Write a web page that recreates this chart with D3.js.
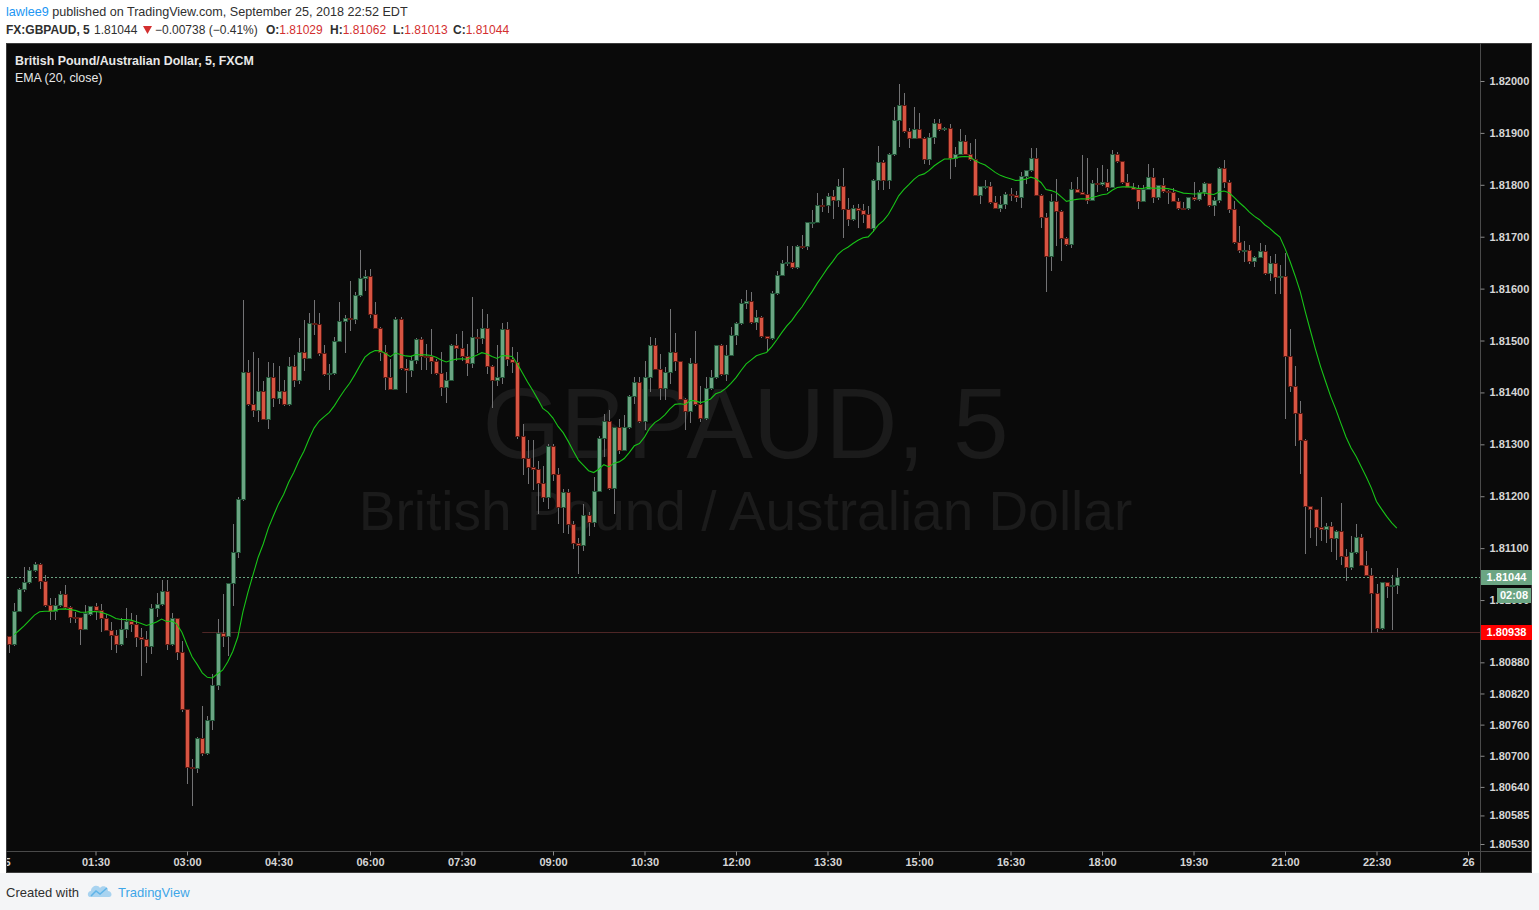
<!DOCTYPE html>
<html><head><meta charset="utf-8">
<script src="https://cdn.jsdelivr.net/npm/d3@7"></script>
<style>
html,body{margin:0;padding:0;background:#ffffff;}
svg{display:block;}
</style></head><body>
<svg id="chart" width="1539" height="910"></svg>
<script>
// ---------------- data ----------------
const author = "lawlee9";
const publishedText = " published on TradingView.com, September 25, 2018 22:52 EDT";
const symbolCode = "FX:GBPAUD, 5";
const symbolTitle = "British Pound/Australian Dollar, 5, FXCM";
const indicatorTitle = "EMA (20, close)";
const watermarkMain = "GBPAUD, 5";
const watermarkSub = "British Pound / Australian Dollar";
const startTime = "2018-09-25T00:05:00";
const barMinutes = 5;
const dayStart = "2018-09-25T00:00:00";
const dayEnd = "2018-09-26T00:00:00";

const open = [1.80930,1.80915,1.80979,1.81022,1.81034,1.81057,1.81069,1.81037,1.80990,1.80978,1.80990,1.81011,1.80986,1.80968,1.80967,1.80945,1.80974,1.80988,1.80980,1.80966,
1.80943,1.80932,1.80915,1.80945,1.80959,1.80953,1.80929,1.80924,1.80912,1.80984,1.80992,1.81017,1.80916,1.80965,1.80899,1.80790,1.80679,1.80677,1.80735,1.80706,
1.80768,1.80837,1.80936,1.80930,1.81032,1.81092,1.81194,1.81439,1.81377,1.81367,1.81402,1.81349,1.81429,1.81390,1.81402,1.81377,1.81450,1.81423,1.81477,1.81467,
1.81533,1.81532,1.81475,1.81435,1.81437,1.81500,1.81537,1.81543,1.81541,1.81587,1.81620,1.81625,1.81552,1.81525,1.81477,1.81430,1.81407,1.81541,1.81447,1.81444,
1.81462,1.81503,1.81471,1.81470,1.81460,1.81437,1.81410,1.81424,1.81492,1.81485,1.81471,1.81456,1.81506,1.81505,1.81525,1.81451,1.81423,1.81429,1.81523,1.81465,
1.81459,1.81316,1.81273,1.81257,1.81252,1.81225,1.81198,1.81296,1.81242,1.81180,1.81209,1.81146,1.81109,1.81106,1.81163,1.81151,1.81211,1.81313,1.81344,1.81215,
1.81333,1.81290,1.81333,1.81394,1.81421,1.81344,1.81430,1.81492,1.81446,1.81408,1.81440,1.81477,1.81460,1.81388,1.81365,1.81456,1.81377,1.81350,1.81408,1.81429,
1.81491,1.81435,1.81473,1.81510,1.81533,1.81573,1.81577,1.81535,1.81545,1.81508,1.81504,1.81591,1.81627,1.81650,1.81651,1.81641,1.81683,1.81682,1.81728,1.81729,
1.81762,1.81761,1.81778,1.81770,1.81797,1.81754,1.81734,1.81755,1.81751,1.81743,1.81717,1.81810,1.81843,1.81810,1.81859,1.81924,1.81953,1.81903,1.81891,1.81907,
1.81891,1.81849,1.81893,1.81920,1.81907,1.81909,1.81851,1.81860,1.81884,1.81860,1.81849,1.81781,1.81797,1.81798,1.81766,1.81756,1.81763,1.81782,1.81781,1.81777,
1.81817,1.81828,1.81851,1.81781,1.81738,1.81663,1.81768,1.81750,1.81698,1.81686,1.81791,1.81787,1.81783,1.81771,1.81803,1.81801,1.81806,1.81796,1.81860,1.81845,
1.81806,1.81796,1.81792,1.81769,1.81792,1.81815,1.81776,1.81799,1.81788,1.81787,1.81769,1.81756,1.81755,1.81776,1.81772,1.81787,1.81803,1.81762,1.81770,1.81833,
1.81806,1.81753,1.81689,1.81673,1.81675,1.81654,1.81661,1.81672,1.81631,1.81649,1.81622,1.81625,1.81471,1.81412,1.81360,1.81309,1.81181,1.81175,1.81141,1.81136,
1.81143,1.81120,1.81133,1.81085,1.81064,1.81092,1.81121,1.81068,1.81049,1.81014,1.80946,1.81034,1.81028,1.81029];

const high = [1.80931,1.80995,1.81023,1.81063,1.81063,1.81073,1.81072,1.81048,1.81004,1.81004,1.81017,1.81029,1.80988,1.80977,1.80968,1.80990,1.80989,1.80995,1.80992,1.80974,
1.80957,1.80943,1.80966,1.80984,1.80976,1.80971,1.80946,1.80940,1.80993,1.81013,1.81038,1.81038,1.80976,1.80966,1.80921,1.80791,1.80694,1.80736,1.80796,1.80776,
1.80857,1.80963,1.81011,1.81033,1.81146,1.81198,1.81578,1.81462,1.81478,1.81466,1.81422,1.81458,1.81456,1.81451,1.81424,1.81468,1.81472,1.81505,1.81539,1.81553,
1.81578,1.81553,1.81491,1.81455,1.81506,1.81574,1.81549,1.81614,1.81594,1.81674,1.81636,1.81638,1.81575,1.81526,1.81491,1.81464,1.81546,1.81546,1.81465,1.81471,
1.81504,1.81506,1.81493,1.81523,1.81465,1.81477,1.81439,1.81494,1.81512,1.81518,1.81494,1.81584,1.81523,1.81560,1.81551,1.81452,1.81491,1.81534,1.81536,1.81488,
1.81478,1.81339,1.81308,1.81308,1.81267,1.81258,1.81300,1.81300,1.81255,1.81214,1.81214,1.81152,1.81120,1.81185,1.81169,1.81237,1.81317,1.81358,1.81366,1.81334,
1.81348,1.81356,1.81395,1.81429,1.81429,1.81461,1.81507,1.81504,1.81474,1.81449,1.81560,1.81514,1.81461,1.81389,1.81467,1.81518,1.81412,1.81429,1.81443,1.81492,
1.81494,1.81492,1.81526,1.81536,1.81580,1.81597,1.81593,1.81558,1.81548,1.81509,1.81595,1.81633,1.81655,1.81682,1.81682,1.81684,1.81704,1.81729,1.81751,1.81785,
1.81772,1.81785,1.81790,1.81812,1.81832,1.81774,1.81762,1.81763,1.81763,1.81759,1.81812,1.81875,1.81848,1.81862,1.81949,1.81994,1.81976,1.81909,1.81949,1.81938,
1.81892,1.81899,1.81926,1.81926,1.81911,1.81918,1.81873,1.81907,1.81896,1.81880,1.81888,1.81798,1.81809,1.81805,1.81778,1.81778,1.81786,1.81793,1.81788,1.81825,
1.81829,1.81871,1.81871,1.81782,1.81745,1.81783,1.81812,1.81751,1.81699,1.81806,1.81815,1.81857,1.81851,1.81809,1.81832,1.81838,1.81830,1.81867,1.81863,1.81846,
1.81820,1.81804,1.81799,1.81799,1.81840,1.81832,1.81800,1.81813,1.81790,1.81793,1.81774,1.81767,1.81777,1.81805,1.81790,1.81805,1.81804,1.81777,1.81834,1.81848,
1.81809,1.81768,1.81720,1.81692,1.81684,1.81663,1.81688,1.81684,1.81663,1.81666,1.81645,1.81668,1.81522,1.81451,1.81384,1.81311,1.81182,1.81176,1.81199,1.81148,
1.81150,1.81134,1.81187,1.81098,1.81123,1.81146,1.81128,1.81094,1.81061,1.81031,1.81035,1.81035,1.81048,1.81062];

const low = [1.80900,1.80914,1.80978,1.81018,1.81033,1.81056,1.81024,1.80989,1.80963,1.80963,1.80988,1.80985,1.80958,1.80957,1.80916,1.80944,1.80972,1.80963,1.80941,1.80942,
1.80906,1.80900,1.80914,1.80929,1.80940,1.80912,1.80855,1.80881,1.80898,1.80969,1.80991,1.80905,1.80913,1.80887,1.80787,1.80648,1.80605,1.80669,1.80702,1.80703,
1.80751,1.80828,1.80912,1.80894,1.80991,1.81082,1.81193,1.81376,1.81354,1.81345,1.81348,1.81332,1.81374,1.81379,1.81376,1.81376,1.81413,1.81418,1.81444,1.81466,
1.81512,1.81473,1.81434,1.81407,1.81435,1.81499,1.81478,1.81520,1.81533,1.81586,1.81597,1.81546,1.81524,1.81462,1.81407,1.81406,1.81406,1.81446,1.81401,1.81432,
1.81456,1.81445,1.81445,1.81437,1.81435,1.81395,1.81382,1.81423,1.81462,1.81462,1.81433,1.81449,1.81478,1.81496,1.81438,1.81371,1.81414,1.81418,1.81453,1.81440,
1.81312,1.81243,1.81226,1.81214,1.81168,1.81191,1.81178,1.81232,1.81149,1.81131,1.81130,1.81101,1.81052,1.81097,1.81126,1.81142,1.81210,1.81277,1.81214,1.81168,
1.81284,1.81289,1.81331,1.81380,1.81343,1.81330,1.81403,1.81445,1.81388,1.81388,1.81418,1.81444,1.81387,1.81329,1.81343,1.81376,1.81345,1.81349,1.81407,1.81428,
1.81434,1.81424,1.81472,1.81494,1.81532,1.81563,1.81534,1.81523,1.81507,1.81479,1.81503,1.81590,1.81626,1.81645,1.81640,1.81640,1.81678,1.81677,1.81719,1.81728,
1.81749,1.81747,1.81736,1.81760,1.81700,1.81722,1.81733,1.81718,1.81729,1.81716,1.81711,1.81791,1.81791,1.81793,1.81858,1.81874,1.81902,1.81873,1.81890,1.81890,
1.81842,1.81841,1.81880,1.81906,1.81906,1.81813,1.81837,1.81859,1.81859,1.81848,1.81780,1.81764,1.81793,1.81765,1.81755,1.81750,1.81756,1.81771,1.81768,1.81758,
1.81803,1.81827,1.81780,1.81719,1.81596,1.81636,1.81684,1.81655,1.81684,1.81681,1.81786,1.81782,1.81764,1.81770,1.81788,1.81800,1.81790,1.81795,1.81844,1.81803,
1.81795,1.81791,1.81755,1.81768,1.81791,1.81767,1.81773,1.81787,1.81765,1.81768,1.81753,1.81754,1.81753,1.81771,1.81771,1.81780,1.81759,1.81742,1.81767,1.81796,
1.81748,1.81688,1.81671,1.81654,1.81650,1.81644,1.81660,1.81628,1.81616,1.81592,1.81592,1.81350,1.81403,1.81299,1.81244,1.81090,1.81122,1.81106,1.81115,1.81112,
1.81095,1.81079,1.81069,1.81038,1.81060,1.81091,1.81067,1.81048,1.80938,1.80940,1.80945,1.81006,1.80945,1.81013];

const close = [1.80915,1.80979,1.81022,1.81034,1.81057,1.81069,1.81037,1.80990,1.80978,1.80990,1.81011,1.80986,1.80968,1.80967,1.80945,1.80975,1.80988,1.80980,1.80966,1.80943,
1.80932,1.80915,1.80945,1.80959,1.80953,1.80929,1.80924,1.80912,1.80984,1.80992,1.81017,1.80916,1.80965,1.80899,1.80790,1.80679,1.80677,1.80735,1.80706,1.80768,
1.80837,1.80936,1.80930,1.81032,1.81092,1.81194,1.81439,1.81377,1.81367,1.81402,1.81349,1.81429,1.81390,1.81402,1.81377,1.81450,1.81423,1.81477,1.81467,1.81533,
1.81532,1.81475,1.81435,1.81437,1.81500,1.81537,1.81543,1.81541,1.81587,1.81620,1.81625,1.81552,1.81525,1.81477,1.81430,1.81407,1.81541,1.81447,1.81444,1.81462,
1.81503,1.81471,1.81470,1.81460,1.81437,1.81410,1.81424,1.81492,1.81485,1.81471,1.81456,1.81506,1.81505,1.81525,1.81451,1.81423,1.81429,1.81523,1.81465,1.81459,
1.81316,1.81273,1.81257,1.81252,1.81225,1.81198,1.81296,1.81242,1.81180,1.81209,1.81146,1.81109,1.81106,1.81163,1.81151,1.81211,1.81313,1.81344,1.81215,1.81333,
1.81290,1.81333,1.81394,1.81421,1.81344,1.81430,1.81492,1.81446,1.81408,1.81440,1.81477,1.81460,1.81388,1.81365,1.81456,1.81377,1.81350,1.81408,1.81429,1.81491,
1.81435,1.81473,1.81510,1.81533,1.81573,1.81577,1.81535,1.81545,1.81508,1.81504,1.81591,1.81627,1.81650,1.81651,1.81641,1.81683,1.81682,1.81728,1.81729,1.81762,
1.81761,1.81778,1.81770,1.81797,1.81754,1.81734,1.81755,1.81751,1.81743,1.81717,1.81810,1.81843,1.81810,1.81859,1.81924,1.81953,1.81903,1.81891,1.81907,1.81891,
1.81849,1.81893,1.81920,1.81907,1.81909,1.81851,1.81860,1.81884,1.81860,1.81849,1.81781,1.81797,1.81798,1.81766,1.81756,1.81763,1.81782,1.81781,1.81777,1.81817,
1.81828,1.81851,1.81781,1.81738,1.81663,1.81768,1.81750,1.81698,1.81686,1.81791,1.81787,1.81783,1.81771,1.81803,1.81801,1.81806,1.81796,1.81860,1.81845,1.81806,
1.81796,1.81792,1.81769,1.81792,1.81815,1.81776,1.81799,1.81788,1.81787,1.81769,1.81756,1.81755,1.81776,1.81772,1.81787,1.81803,1.81762,1.81770,1.81833,1.81806,
1.81753,1.81689,1.81674,1.81675,1.81654,1.81661,1.81672,1.81631,1.81649,1.81622,1.81625,1.81471,1.81412,1.81360,1.81309,1.81181,1.81175,1.81141,1.81136,1.81143,
1.81120,1.81133,1.81085,1.81064,1.81092,1.81121,1.81068,1.81049,1.81014,1.80946,1.81034,1.81028,1.81029,1.81044];

const emaLength = 20;
const emaSeed = 1.80930;           // EMA value just before the first visible bar

const yTickValues = [1.82000,1.81900,1.81800,1.81700,1.81600,1.81500,1.81400,1.81300,1.81200,1.81100,1.81000,
                     1.80880,1.80820,1.80760,1.80700,1.80640,1.80585,1.80530];
const xTickLabels = ["25","01:30","03:00","04:30","06:00","07:30","09:00","10:30","12:00","13:30","15:00","16:30","18:00","19:30","21:00","22:30","26"];
const xTickTimes = ["2018-09-25T00:00:00","2018-09-25T01:30:00","2018-09-25T03:00:00","2018-09-25T04:30:00","2018-09-25T06:00:00",
  "2018-09-25T07:30:00","2018-09-25T09:00:00","2018-09-25T10:30:00","2018-09-25T12:00:00","2018-09-25T13:30:00","2018-09-25T15:00:00",
  "2018-09-25T16:30:00","2018-09-25T18:00:00","2018-09-25T19:30:00","2018-09-25T21:00:00","2018-09-25T22:30:00","2018-09-26T00:00:00"];

const change = "\u22120.00738 (\u22120.41%)";
const lastPrice = 1.81044;
const countdown = "02:08";
const levelPrice = 1.80938;
const levelStart = "2018-09-25T03:15:00";

// ---------------- chart ----------------
const W = 1539, H = 910;
const frame = {left: 6, top: 43, right: 1532, bottom: 873};
const plot = {left: 7, top: 44, right: 1480, bottom: 851};

const t0 = new Date(startTime).getTime();
const data = close.map((c, i) => ({
  t: new Date(t0 + i * barMinutes * 60000), o: open[i], h: high[i], l: low[i], c: c
}));
// EMA
const k = 2 / (emaLength + 1);
let e = emaSeed;
data.forEach(d => { e = e + k * (d.c - e); d.ema = e; });

const x = d3.scaleTime().domain([new Date(dayStart), new Date(dayEnd)]).range([4, 1468]);
const y = d3.scaleLinear().domain([1.80530, 1.82000]).range([844, 81]);

const svg = d3.select("#chart");
const FONT = "'Liberation Sans', Arial, sans-serif";

svg.append("rect").attr("width", W).attr("height", H).attr("fill", "#ffffff");
svg.append("rect").attr("x", 0).attr("y", frame.bottom).attr("width", W).attr("height", H - frame.bottom).attr("fill", "#f4f5f7");

// header
const h1 = svg.append("text").attr("x", 6).attr("y", 16).attr("font-family", FONT).attr("font-size", 12.6).attr("fill", "#2f2f2f");
h1.append("tspan").attr("fill", "#2196f3").text(author);
h1.append("tspan").text(publishedText);

const h2 = svg.append("g").attr("font-family", FONT).attr("font-size", 12);
h2.append("text").attr("x", 6).attr("y", 34).attr("font-weight", "bold").attr("fill", "#2f2f2f").text(symbolCode);
h2.append("text").attr("x", 94).attr("y", 34).attr("fill", "#2f2f2f").text(d3.format(".5f")(lastPrice));
h2.append("path").attr("d", "M143,26 L152,26 L147.5,34 Z").attr("fill", "#d32f2f");
h2.append("text").attr("x", 155).attr("y", 34).attr("fill", "#2f2f2f").text(change);
const ohlcLast = [["O:", open[open.length-1], 266], ["H:", high[high.length-1], 330], ["L:", low[low.length-1], 393], ["C:", close[close.length-1], 453]];
ohlcLast.forEach(([lab, v, px]) => {
  const tx = h2.append("text").attr("x", px).attr("y", 34);
  tx.append("tspan").attr("font-weight", "bold").attr("fill", "#2f2f2f").text(lab);
  tx.append("tspan").attr("fill", "#d32f2f").text(d3.format(".5f")(v));
});

// chart frame
svg.append("rect").attr("x", frame.left + 0.5).attr("y", frame.top + 0.5)
  .attr("width", frame.right - frame.left - 1).attr("height", frame.bottom - frame.top - 1)
  .attr("fill", "#0a0a0a").attr("stroke", "#3c3c3c");

svg.append("defs").append("clipPath").attr("id", "plotClip")
  .append("rect").attr("x", plot.left).attr("y", plot.top).attr("width", plot.right - plot.left).attr("height", plot.bottom - plot.top);

const pg = svg.append("g").attr("clip-path", "url(#plotClip)");

// watermark
const cxMid = (plot.left + plot.right) / 2 + 2;
pg.append("text").attr("x", cxMid).attr("y", 458).attr("text-anchor", "middle").attr("font-family", FONT)
  .attr("font-size", 100).attr("fill", "#1b1b1b").text(watermarkMain);
pg.append("text").attr("x", cxMid).attr("y", 530).attr("text-anchor", "middle").attr("font-family", FONT)
  .attr("font-size", 55).attr("fill", "#1b1b1b").text(watermarkSub);

// level line
pg.append("line").attr("x1", x(new Date(levelStart))).attr("x2", plot.right)
  .attr("y1", Math.round(y(levelPrice)) + 0.5).attr("y2", Math.round(y(levelPrice)) + 0.5)
  .attr("stroke", "#4e2626").attr("stroke-width", 1);

// last price dotted line
pg.append("line").attr("x1", plot.left).attr("x2", plot.right)
  .attr("y1", Math.round(y(lastPrice)) + 0.5).attr("y2", Math.round(y(lastPrice)) + 0.5)
  .attr("stroke", "#6ba583").attr("stroke-width", 1).attr("stroke-dasharray", "2,2");

// candles
const cg = pg.append("g");
data.forEach(d => {
  const cx = Math.round(x(d.t));
  const up = d.c >= d.o;
  cg.append("line").attr("x1", cx + 0.5).attr("x2", cx + 0.5)
    .attr("y1", Math.round(y(d.h))).attr("y2", Math.round(y(d.l)) + 1)
    .attr("stroke", "#737375").attr("stroke-width", 1);
  const yt = Math.round(y(Math.max(d.o, d.c)));
  const yb = Math.round(y(Math.min(d.o, d.c)));
  cg.append("rect").attr("x", cx - 1.5).attr("y", yt + 0.5).attr("width", 4).attr("height", Math.max(yb - yt, 1))
    .attr("fill", up ? "#6ba583" : "#d75442").attr("stroke", up ? "#225437" : "#5b1a13").attr("stroke-width", 1);
});

// EMA
const line = d3.line().x(d => x(d.t)).y(d => y(d.ema));
pg.append("path").datum(data.slice(1)).attr("d", line).attr("fill", "none")
  .attr("stroke", "#18c418").attr("stroke-width", 1.1);

// legend
pg.append("text").attr("x", 15).attr("y", 65).attr("font-family", FONT).attr("font-size", 12.4)
  .attr("font-weight", "bold").attr("fill", "#e8e8e8").text(symbolTitle);
pg.append("text").attr("x", 15).attr("y", 82).attr("font-family", FONT).attr("font-size", 12.4)
  .attr("fill", "#e8e8e8").text(indicatorTitle);

// axes separators
svg.append("line").attr("x1", plot.right + 0.5).attr("x2", plot.right + 0.5).attr("y1", frame.top).attr("y2", frame.bottom)
  .attr("stroke", "#4a4a4a");
svg.append("line").attr("x1", frame.left).attr("x2", frame.right).attr("y1", plot.bottom + 0.5).attr("y2", plot.bottom + 0.5)
  .attr("stroke", "#4a4a4a");

// right axis
const yAxis = d3.axisRight(y).tickValues(yTickValues).tickFormat(d3.format(".5f")).tickSize(4).tickPadding(5);
const ya = svg.append("g").attr("transform", `translate(${plot.right + 0.5},0)`).call(yAxis);
ya.select(".domain").remove();
ya.selectAll("line").attr("stroke", "#8a8a8a");
ya.selectAll("text").attr("font-family", FONT).attr("font-size", 11).attr("font-weight", "bold").attr("fill", "#d6d6d6");

// bottom axis
svg.append("defs").append("clipPath").attr("id", "xClip")
  .append("rect").attr("x", plot.left).attr("y", plot.bottom).attr("width", plot.right - plot.left).attr("height", frame.bottom - plot.bottom);
const xAxis = d3.axisBottom(x).tickValues(xTickTimes.map(s => new Date(s)))
  .tickFormat((d, i) => xTickLabels[i]).tickSize(4).tickPadding(3);
const xa = svg.append("g").attr("clip-path", "url(#xClip)").append("g")
  .attr("transform", `translate(0,${plot.bottom + 0.5})`).call(xAxis);
xa.select(".domain").remove();
xa.selectAll("line").attr("stroke", "#8a8a8a");
xa.selectAll("text").attr("font-family", FONT).attr("font-size", 11).attr("font-weight", "bold").attr("fill", "#d6d6d6");

// price labels on axis
function axisLabel(price, fill, txt, dy, xOff, w) {
  const yy = Math.round(y(price)) + dy;
  svg.append("rect").attr("x", plot.right + 1 + xOff).attr("y", yy - 7).attr("width", w).attr("height", 15).attr("fill", fill);
  svg.append("text").attr("x", plot.right + 1 + xOff + w / 2).attr("y", yy + 4).attr("text-anchor", "middle")
    .attr("font-family", FONT).attr("font-size", 11).attr("font-weight", "bold").attr("fill", "#ffffff").text(txt);
}
axisLabel(lastPrice, "#6ba583", d3.format(".5f")(lastPrice), 0, 0, 51);
axisLabel(lastPrice, "#6ba583", countdown, 18, 16, 34);
axisLabel(levelPrice, "#ff0000", d3.format(".5f")(levelPrice), 0, 0, 51);

// footer
svg.append("text").attr("x", 6).attr("y", 897).attr("font-family", FONT).attr("font-size", 13).attr("fill", "#2f2f2f").text("Created with");
const logo = svg.append("g").attr("transform", "translate(88,884)").attr("fill", "#a8d3f0");
logo.append("path").attr("d", "M2,13 C-1,13 -1,7 3,7 C3,2 10,0 12,4 C14,1 20,2 20,7 C24,7 25,13 21,13 Z");
logo.append("path").attr("d", "M3,12 L8,7 L12,10 L19,4").attr("fill", "none").attr("stroke", "#5fb4e8").attr("stroke-width", 1.5);
svg.append("text").attr("x", 118).attr("y", 897).attr("font-family", FONT).attr("font-size", 13).attr("fill", "#3ea6e8").text("TradingView");
</script>
</body></html>
